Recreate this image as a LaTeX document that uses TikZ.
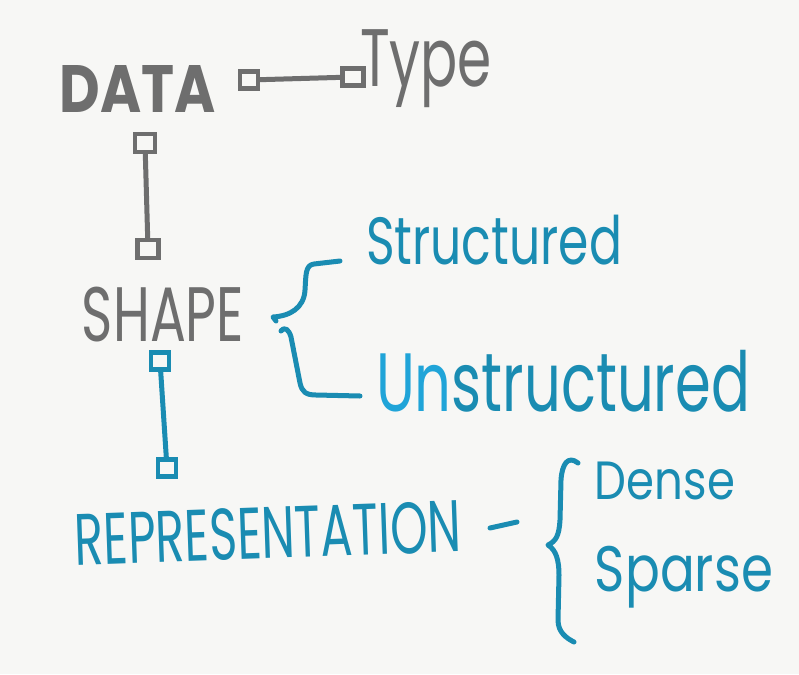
\documentclass[tikz,border=0pt]{standalone}
\usepackage{fontspec}
\usepackage{graphicx}
\setmainfont{Poppins}
\definecolor{paper}{HTML}{F7F7F5}
\definecolor{ink}{HTML}{6E6E6E}
\definecolor{blueink}{HTML}{1A8CB2}
\definecolor{unblue}{HTML}{20A4D8}
\newcommand{\fitword}[3]{\resizebox*{#1pt}{#2pt}{#3}}
\tikzset{
  word/.style={inner sep=0pt, outer sep=0pt},
  gray word/.style={word, text=ink},
  blue word/.style={word, text=blueink},
  pin/.style={draw, rectangle, line width=4.2pt, inner sep=0pt, minimum width=18pt, minimum height=17pt},
  gray pin/.style={pin, draw=ink},
  blue pin/.style={pin, draw=blueink},
  stroke/.style={line width=5pt, line cap=round, line join=round},
  gray stroke/.style={stroke, draw=ink},
  blue stroke/.style={stroke, draw=blueink}
}
\begin{document}
\begin{tikzpicture}[x=1pt,y=-1pt]
\fill[paper] (0,0) rectangle (799,674);
\useasboundingbox (0,0) rectangle (799,674);

% words
\node[gray word, font=\bfseries] (data) at (138,89) {\fitword{156}{47}{DATA}};
\node[gray word] (type) at (426,69) {\fitword{132}{78}{Type}};
\node[gray word] (shape) at (163,315) {\fitword{162}{55}{SHAPE}};
\node[blue word, rotate=2] (repr) at (268,533) {\fitword{386}{52}{REPRESENTATION}};
\node[blue word] (struct) at (494,240) {\fitword{256}{50}{Structured}};
\node[blue word] (unstruct) at (563,381) {\fitword{374}{62}{\textcolor{unblue}{Un}structured}};
\node[blue word] (dense) at (665,481) {\fitword{140}{38}{Dense}};
\node[blue word] (sparse) at (684,577) {\fitword{178}{62}{Sparse}};

% pins
\node[gray pin] (p1) at (249,80) {};
\node[gray pin, minimum width=21pt] (p2) at (353,77) {};
\node[gray pin, minimum width=20pt, minimum height=18pt] (p3) at (145,143) {};
\node[gray pin, minimum width=21pt, minimum height=18pt] (p4) at (148,249) {};
\node[blue pin] (p5) at (160,361) {};
\node[blue pin] (p6) at (167,468) {};

% connectors
\draw[gray stroke] (p1) -- (p2);
\draw[gray stroke] (p3) -- (p4);
\draw[blue stroke] (p5) -- (p6);

% dash after REPRESENTATION
\coordinate (d1) at (490,528);
\coordinate (d2) at (517,522);
\draw[blue stroke] (d1) -- (d2);

% shape brace
\draw[blue stroke] (340,261) -- (314,264)
  .. controls (305,265) and (306,276) .. (305,290)
  .. controls (304,308) and (290,316) .. (273,317) -- (276,321);
\draw[blue stroke] (281,331) .. controls (285,326) and (289,330) .. (291,337)
  -- (300,383) .. controls (302,392) and (306,395) .. (316,395) -- (360,396);

% representation brace
\draw[blue stroke] (578,463) .. controls (568,455) and (562,464) .. (561,480)
  -- (560,520) .. controls (559,536) and (556,541) .. (548,545)
  .. controls (556,550) and (559,560) .. (559,575)
  -- (558,620) .. controls (558,632) and (566,638) .. (574,642);
\end{tikzpicture}
\end{document}
